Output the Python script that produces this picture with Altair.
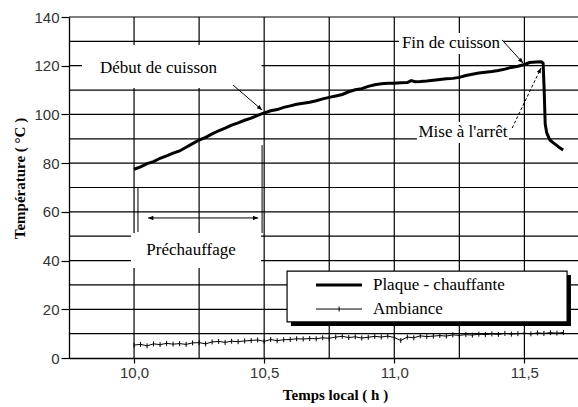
import math
import pandas as pd
import altair as alt

# ---------------- data ----------------
plaque_h = [10.000, 10.025, 10.050, 10.075, 10.100, 10.125, 10.150, 10.175, 10.200, 10.225,
            10.250, 10.275, 10.300, 10.325, 10.350, 10.375, 10.400, 10.425, 10.450, 10.475,
            10.500, 10.525, 10.550, 10.575, 10.600, 10.625, 10.650, 10.675, 10.700, 10.725,
            10.750, 10.775, 10.800, 10.825, 10.850, 10.875, 10.900, 10.925, 10.950, 10.975,
            11.000, 11.025, 11.050, 11.065, 11.080, 11.100, 11.125, 11.150, 11.175, 11.200,
            11.225, 11.250, 11.275, 11.300, 11.325, 11.350, 11.375, 11.400, 11.425, 11.450,
            11.475, 11.500, 11.520, 11.545, 11.565, 11.572, 11.576, 11.580, 11.586, 11.598,
            11.610, 11.622, 11.636, 11.649]
plaque_t = [77.5, 78.5, 79.8, 80.6, 82.0, 83.0, 84.1, 85.0, 86.5, 88.0,
            89.5, 90.6, 92.0, 93.3, 94.4, 95.6, 96.5, 97.6, 98.5, 99.6,
            100.6, 101.5, 102.0, 102.9, 103.5, 104.2, 104.6, 105.0, 105.6, 106.4,
            107.0, 107.6, 108.2, 109.3, 110.1, 110.6, 111.5, 112.2, 112.6, 112.8,
            112.8, 113.0, 113.1, 113.9, 113.4, 113.5, 113.7, 114.0, 114.3, 114.6,
            114.8, 115.2, 116.0, 116.5, 117.0, 117.3, 117.6, 118.0, 118.6, 119.3,
            119.8, 120.5, 121.3, 121.5, 121.6, 121.0, 110.0, 96.0, 92.4, 89.5,
            88.4, 87.5, 86.3, 85.4]

amb_h = [10.000, 10.025, 10.050, 10.075, 10.100, 10.125, 10.150, 10.175, 10.200, 10.225,
         10.250, 10.275, 10.300, 10.325, 10.350, 10.375, 10.400, 10.425, 10.450, 10.475,
         10.500, 10.525, 10.550, 10.575, 10.600, 10.625, 10.650, 10.675, 10.700, 10.725,
         10.750, 10.775, 10.800, 10.825, 10.850, 10.875, 10.900, 10.925, 10.950, 10.975,
         11.000, 11.025, 11.050, 11.075, 11.100, 11.125, 11.150, 11.175, 11.200, 11.225,
         11.250, 11.275, 11.300, 11.325, 11.350, 11.375, 11.400, 11.425, 11.450, 11.475,
         11.500, 11.525, 11.550, 11.575, 11.600, 11.625, 11.650]
amb_t = [5.3, 5.6, 5.0, 5.8, 5.5, 6.0, 5.7, 5.9, 5.6, 6.2,
         6.3, 5.8, 6.6, 6.8, 6.4, 6.9, 6.7, 7.0, 7.2, 7.4,
         6.8, 7.6, 7.1, 7.5, 7.6, 7.9, 7.8, 8.0, 7.9, 8.3,
         8.1, 8.6, 8.9, 8.4, 8.7, 8.2, 8.5, 8.9, 8.6, 9.0,
         8.4, 7.2, 8.6, 8.3, 9.1, 8.8, 9.0, 9.2, 9.0, 9.5,
         9.3, 9.6, 9.4, 9.8, 9.6, 9.9, 9.7, 10.1, 9.8, 10.0,
         10.2, 9.9, 10.3, 10.1, 10.4, 10.2, 10.5]

x_tick_values = [10.0, 10.5, 11.0, 11.5]
y_tick_values = [0, 20, 40, 60, 80, 100, 120, 140]
x_grid = [10.0, 10.25, 10.5, 10.75, 11.0, 11.25, 11.5]
y_grid = [10, 20, 30, 40, 50, 60, 70, 80, 90, 100, 110, 120, 130, 140]

series_names = ["Plaque - chauffante", "Ambiance"]
x_title = "Temps local ( h )"
y_title = "Température ( °C )"

# ---------------- layout ----------------
X_MIN, X_MAX = 9.75, 11.706
Y_MIN, Y_MAX = 0, 140
W, H = 509, 341
PXH = W / (X_MAX - X_MIN)
PXT = H / (Y_MAX - Y_MIN)
SERIF = "Liberation Serif"
SANS = "Liberation Sans"
ARROW = "M0,0L-1,-0.42L-1,0.42Z"
TICK = "M0,-1L0,1"

xs = alt.Scale(domain=[X_MIN, X_MAX], nice=False, zero=False)
ys = alt.Scale(domain=[Y_MIN, Y_MAX], nice=False, zero=False)

xaxis = alt.Axis(values=x_tick_values, grid=False, tickSize=5, tickColor="black",
                 tickWidth=1.2, domainColor="black", domainWidth=1.3,
                 labelExpr="replace(format(datum.value, '.1f'), '.', ',')",
                 labelFont=SANS, labelFontSize=15, labelColor="#333", labelPadding=2,
                 titleFont=SERIF, titleFontSize=15, titleFontWeight="bold",
                 titleColor="black", titleX=266, titleY=41, titleBaseline="alphabetic")
yaxis = alt.Axis(values=y_tick_values, grid=False, tickSize=8, tickColor="black",
                 tickWidth=1.2, domainColor="black", domainWidth=1.3,
                 labelFont=SANS, labelFontSize=15, labelColor="#333", labelPadding=2,
                 titleFont=SERIF, titleFontSize=15, titleFontWeight="bold",
                 titleColor="black", titleX=-50, titleY=161, titleAngle=270,
                 titleAlign="center", titleBaseline="middle")


def X(f="h"):
    return alt.X(f"{f}:Q", scale=xs, axis=xaxis, title=x_title)


def Y(f="t"):
    return alt.Y(f"{f}:Q", scale=ys, axis=yaxis, title=y_title)


def ang(h1, t1, h2, t2):
    dx = (h2 - h1) * PXH
    dy = -(t2 - t1) * PXT
    return math.degrees(math.atan2(dy, dx)) % 360


# ---------------- annotations (data coordinates) ----------------
boxes = pd.DataFrame({
    "h": [9.800, 9.988, 11.018, 11.087],
    "h2": [10.490, 10.488, 11.418, 11.441],
    "t": [128.5, 51.3, 133.4, 96.9],
    "t2": [110.9, 37.0, 124.8, 88.3],
})
segments = pd.DataFrame({
    "h": [10.380, 10.015, 10.492, 10.054, 11.414],
    "t": [112.1, 69.8, 87.4, 57.5, 130.6],
    "h2": [10.492, 10.015, 10.492, 10.477, 11.495],
    "t2": [101.8, 51.7, 51.3, 57.5, 121.1],
})
dashed = pd.DataFrame({"h": [11.453], "t": [94.4], "h2": [11.564], "t2": [119.1]})
heads = pd.DataFrame({
    "h": [10.492, 10.054, 10.477, 11.495, 11.564],
    "t": [101.8, 57.5, 57.5, 121.1, 119.1],
    "ang": [ang(10.380, 112.1, 10.492, 101.8), 180.0, 0.0,
            ang(11.414, 130.6, 11.495, 121.1), ang(11.453, 94.4, 11.564, 119.1)],
})
labels = pd.DataFrame({
    "h": [10.094, 10.219, 11.218, 11.264],
    "t": [119.1, 44.3, 129.3, 92.8],
    "label": ["Début de cuisson", "Préchauffage", "Fin de cuisson", "Mise à l'arrêt"],
})

# legend (drawn in data coordinates)
leg_shadow = pd.DataFrame({"h": [10.603], "h2": [11.679], "t": [34.1], "t2": [13.1]})
leg_box = pd.DataFrame({"h": [10.588], "h2": [11.664], "t": [35.7], "t2": [14.8]})
leg_lines = pd.DataFrame({"h": [10.699, 10.699], "h2": [10.876, 10.876],
                          "t": [30.0, 20.1], "sw": [3.0, 1.0]})
leg_tick = pd.DataFrame({"h": [10.788], "t": [20.1]})
leg_text = pd.DataFrame({"h": [10.918, 10.918], "t": [30.0, 20.1], "label": series_names})

df_plaque = pd.DataFrame({"h": plaque_h, "t": plaque_t})
df_amb = pd.DataFrame({"h": amb_h, "t": amb_t})

# ---------------- layers ----------------
hgrid = alt.Chart(pd.DataFrame({"t": y_grid})).mark_rule(color="black", strokeWidth=1.2).encode(y=Y())
vgrid = alt.Chart(pd.DataFrame({"h": x_grid})).mark_rule(color="black", strokeWidth=1.2).encode(x=X())
box_layer = alt.Chart(boxes).mark_rect(fill="white").encode(x=X(), x2="h2:Q", y=Y(), y2="t2:Q")

amb_line = alt.Chart(df_amb).mark_line(color="black", strokeWidth=1).encode(x=X(), y=Y())
amb_ticks = alt.Chart(df_amb).mark_point(shape=TICK, size=25, filled=False, color="black",
                                         strokeWidth=1, opacity=1).encode(x=X(), y=Y())
plaque_line = alt.Chart(df_plaque).mark_line(color="black", strokeWidth=3).encode(x=X(), y=Y())

seg_layer = alt.Chart(segments).mark_rule(color="black", strokeWidth=1).encode(
    x=X(), y=Y(), x2="h2:Q", y2="t2:Q")
dash_layer = alt.Chart(dashed).mark_rule(color="black", strokeWidth=1, strokeDash=[3, 2]).encode(
    x=X(), y=Y(), x2="h2:Q", y2="t2:Q")
head_layer = alt.Chart(heads).mark_point(shape=ARROW, size=110, filled=True, color="black",
                                         opacity=1).encode(
    x=X(), y=Y(), angle=alt.Angle("ang:Q", scale=None))
text_layer = alt.Chart(labels).mark_text(font=SERIF, fontSize=17, color="black",
                                         align="center", baseline="middle").encode(
    x=X(), y=Y(), text="label:N")

shadow_layer = alt.Chart(leg_shadow).mark_rect(fill="black").encode(x=X(), x2="h2:Q", y=Y(), y2="t2:Q")
legbox_layer = alt.Chart(leg_box).mark_rect(fill="white", stroke="black", strokeWidth=1.2).encode(
    x=X(), x2="h2:Q", y=Y(), y2="t2:Q")
leglines_layer = alt.Chart(leg_lines).mark_rule(color="black").encode(
    x=X(), x2="h2:Q", y=Y(), strokeWidth=alt.StrokeWidth("sw:Q", scale=None))
legtick_layer = alt.Chart(leg_tick).mark_point(shape=TICK, size=25, filled=False, color="black",
                                               strokeWidth=1, opacity=1).encode(x=X(), y=Y())
legtext_layer = alt.Chart(leg_text).mark_text(font=SERIF, fontSize=17, color="black",
                                              align="left", baseline="middle").encode(
    x=X(), y=Y(), text="label:N")

chart = alt.layer(
    hgrid, vgrid, box_layer, amb_line, amb_ticks, plaque_line,
    seg_layer, dash_layer, head_layer, text_layer,
    shadow_layer, legbox_layer, leglines_layer, legtick_layer, legtext_layer,
).properties(
    width=W, height=H,
    padding={"left": 69, "top": 17, "right": 0, "bottom": 49},
    autosize=alt.AutoSizeParams(type="none"),
    background="white",
).configure_view(stroke=None)

chart.save("out.html", embed_options={"renderer": "svg", "actions": False})
